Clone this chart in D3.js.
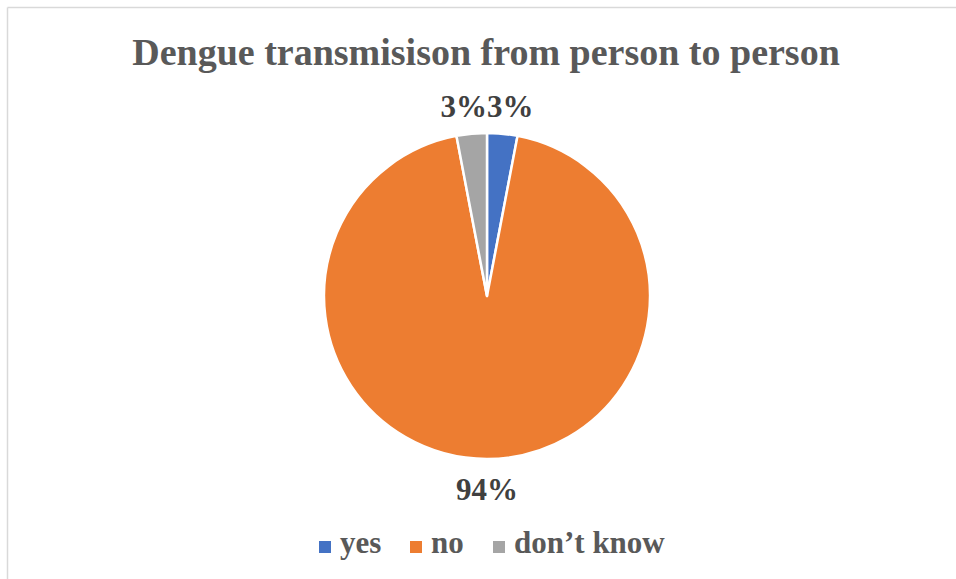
<!DOCTYPE html>
<html>
<head>
<meta charset="utf-8">
<script src="https://cdn.jsdelivr.net/npm/d3@7"></script>
<style>
  html, body { margin: 0; padding: 0; background: #fff; }
  svg { display: block; }
</style>
</head>
<body>
<svg id="chart" width="956" height="579"></svg>
<script>
// Survey answers: can dengue pass from person to person?
const categories = ["yes", "no", "don\u2019t know"];
const values = [3, 94, 3];
const colors = ["#4472C4", "#ED7D31", "#A5A5A5"];
const title = "Dengue transmisison from person to person";

const svg = d3.select("#chart");
const W = 956, H = 579;
const cx = 487, cy = 296, r = 163;
const serif = "'Liberation Serif', 'Times New Roman', Times, serif";

// Chart area frame (only top and left edges are visible in the frame)
svg.append("line").attr("x1", 7.5).attr("y1", 7.5).attr("x2", W).attr("y2", 7.5)
  .attr("stroke", "#d9d9d9").attr("stroke-width", 1.5);
svg.append("line").attr("x1", 7.5).attr("y1", 7.5).attr("x2", 7.5).attr("y2", H)
  .attr("stroke", "#d9d9d9").attr("stroke-width", 1.5);

// Title
svg.append("text")
  .attr("x", 486).attr("y", 65)
  .attr("text-anchor", "middle")
  .attr("font-family", serif).attr("font-weight", "bold")
  .attr("font-size", 38).attr("fill", "#595959")
  .text(title);

const data = categories.map((c, i) => ({ cat: c, value: values[i], color: colors[i] }));
const pie = d3.pie().value(d => d.value).sort(null);
const arcs = pie(data);
const arc = d3.arc().innerRadius(0).outerRadius(r);

const g = svg.append("g").attr("transform", `translate(${cx},${cy})`);
g.selectAll("path.slice").data(arcs).join("path")
  .attr("class", "slice")
  .attr("d", arc)
  .attr("fill", d => d.data.color)
  .attr("stroke", "#fff")
  .attr("stroke-width", 2.5)
  .attr("stroke-linejoin", "round");

// Outside-end value labels
const fmt = d => Math.round(d.data.value) + "%";
g.selectAll("text.lbl").data(arcs).join("text")
  .attr("class", "lbl")
  .attr("font-family", serif).attr("font-weight", "bold")
  .attr("font-size", 31).attr("fill", "#404040")
  .each(function (d) {
    const mid = (d.startAngle + d.endAngle) / 2;
    const s = Math.sin(mid), c = -Math.cos(mid);
    const t = d3.select(this);
    if (c < 0) {
      // upper labels sit just above the rim, pushed aside from the centre line
      t.attr("x", 0).attr("y", -r - 16)
        .attr("text-anchor", s > 0 ? "start" : "end");
    } else {
      t.attr("x", 0).attr("y", r + 41).attr("text-anchor", "middle");
    }
  })
  .text(fmt);

// Legend
const legendX = [319, 410, 493];
const lg = svg.append("g");
data.forEach((d, i) => {
  lg.append("rect")
    .attr("x", legendX[i]).attr("y", 541)
    .attr("width", 12).attr("height", 12)
    .attr("fill", d.color);
  lg.append("text")
    .attr("x", legendX[i] + 21).attr("y", 553)
    .attr("font-family", serif).attr("font-weight", "bold")
    .attr("font-size", 31).attr("fill", "#595959")
    .text(d.cat);
});
</script>
</body>
</html>
